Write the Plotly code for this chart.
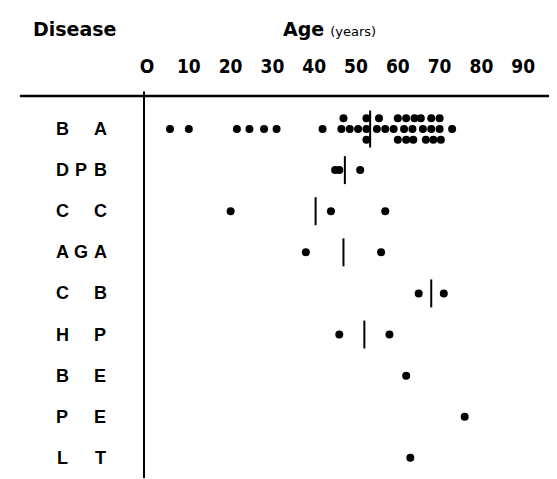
import plotly.graph_objects as go
import numpy as np

diseases = ["B A", "DPB", "C C", "AGA", "C B", "H P", "B E", "P E", "L T"]

# B A ages shown in three stacked tiers
ba_upper = [47, 52.5, 55.5, 60, 62, 64, 65.5, 68, 70]
ba_middle = [5.5, 10, 21.5, 24.5, 28, 31, 42, 46.5, 48.5, 50.5, 52.5, 55, 57, 59,
             61.5, 63.5, 66, 68, 70, 73]
ba_lower = [52.5, 60, 62, 63.7, 66.7, 68.5, 70.3]

other_ages = {
    "DPB": [45, 46, 51],
    "C C": [20, 44, 57],
    "AGA": [38, 56],
    "C B": [65, 71],
    "H P": [46, 58],
    "B E": [62],
    "P E": [76],
    "L T": [63],
}

tick_vals = [0, 10, 20, 30, 40, 50, 60, 70, 80, 90]
tick_text = ["O", "10", "20", "30", "40", "50", "60", "70", "80", "90"]

row = {d: i for i, d in enumerate(diseases)}
tier_off = 0.26

xs, ys = [], []
for a in ba_upper:
    xs.append(a); ys.append(row["B A"] - tier_off)
for a in ba_middle:
    xs.append(a); ys.append(row["B A"])
for a in ba_lower:
    xs.append(a); ys.append(row["B A"] + tier_off)
for d, vals in other_ages.items():
    for a in vals:
        xs.append(a); ys.append(row[d])

fig = go.Figure()
fig.add_trace(go.Scatter(x=xs, y=ys, mode="markers",
                         marker=dict(color="black", size=8, line=dict(width=0)),
                         showlegend=False, hoverinfo="x"))

# mean lines
ba_all = ba_upper + ba_middle + ba_lower
means = {"B A": (float(np.mean(ba_all)), 0.45)}
for d, vals in other_ages.items():
    if len(vals) > 1:
        means[d] = (float(np.mean(vals)), 0.34)
for d, (m, h) in means.items():
    fig.add_shape(type="line", xref="x", yref="y", x0=m, x1=m,
                  y0=row[d] - h, y1=row[d] + h,
                  line=dict(color="black", width=2))

# axes frame lines
fig.add_shape(type="line", xref="paper", yref="paper", x0=-0.295, x1=1.0,
              y0=1, y1=1, line=dict(color="black", width=2.5))
fig.add_shape(type="line", xref="paper", yref="paper", x0=0, x1=0,
              y0=0, y1=1.012, line=dict(color="black", width=2))

# row labels, letter by letter
char_px = [54, 73, 92]
for d in diseases:
    for k, ch in enumerate(d):
        if ch == " ":
            continue
        fig.add_annotation(xref="paper", yref="y", x=(char_px[k] - 136) / 421,
                           y=row[d], text=ch, showarrow=False,
                           xanchor="center", yanchor="middle",
                           font=dict(family="Liberation Sans, Arial", size=18, color="black",
                                     weight="bold"))

# titles
fig.add_annotation(xref="paper", yref="paper", x=(23 - 136) / 421, y=1,
                   yshift=67, text="Disease", showarrow=False,
                   xanchor="left", yanchor="middle",
                   font=dict(family="DejaVu Sans", size=19, color="black", weight="bold"))
fig.add_annotation(xref="paper", yref="paper", x=(273 - 136) / 421, y=1,
                   yshift=67, text="<b>Age</b> <span style='font-size:13px'>(years)</span>",
                   showarrow=False, xanchor="left", yanchor="middle",
                   font=dict(family="DejaVu Sans", size=19, color="black"))

fig.update_layout(
    width=557, height=479,
    margin=dict(l=136, r=0, t=88, b=9),
    plot_bgcolor="white", paper_bgcolor="white",
    xaxis=dict(range=[-0.72, 100], side="top", tickvals=tick_vals, ticktext=tick_text,
               showgrid=False, zeroline=False, showline=False, ticks="",
               ticklabelstandoff=18,
               tickfont=dict(family="Liberation Sans Narrow, DejaVu Sans Condensed, Arial Narrow",
                             size=19, color="black", weight="bold")),
    yaxis=dict(range=[8.49, -0.803], showgrid=False, zeroline=False, showline=False,
               showticklabels=False, ticks=""),
)

fig.write_html("out.html")
